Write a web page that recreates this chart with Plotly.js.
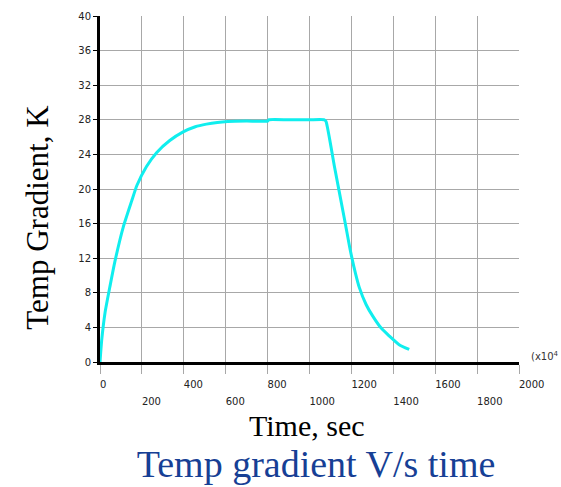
<!DOCTYPE html>
<html>
<head>
<meta charset="utf-8">
<script src="https://cdn.plot.ly/plotly-3.0.1.min.js"></script>
<style>html,body{margin:0;padding:0;background:#fff;}#chart{width:561px;height:487px;}</style>
</head>
<body>
<div id="chart"></div>
<script>
// ---- data ----
const timeSec = [0, 8, 24, 48, 71, 111, 151, 176, 222, 270, 333, 397, 455, 508, 560, 610, 700, 800, 805, 900, 1000, 1071, 1079, 1119, 1167, 1190, 1200, 1220, 1238, 1270, 1302, 1341, 1381, 1428, 1476];
const tempGradK = [0, 2.5, 5.7, 8.8, 11.6, 15.6, 18.6, 20.4, 22.6, 24.2, 25.6, 26.6, 27.2, 27.5, 27.7, 27.8, 27.85, 27.85, 28.0, 28.0, 28.0, 28.0, 27.8, 22.6, 16.5, 13.5, 12.3, 10.2, 8.6, 6.65, 5.3, 3.95, 3.0, 2.0, 1.45];
const xTicksRow1 = [0, 400, 800, 1200, 1600, 2000];
const xTicksRow2 = [200, 600, 1000, 1400, 1800];
const yTicks = [0, 4, 8, 12, 16, 20, 24, 28, 32, 36, 40];
const xRange = [0, 2000];
const yRange = [0, 40];
const chartTitle = 'Temp gradient V/s time';
const xTitle = 'Time, sec';
const yTitle = 'Temp Gradient, K';
const scaleNote = '(x10<sup>4</sup>';

// left-aligned tick text: pad with figure spaces of equal width
const pad = v => '\u2007'.repeat(String(v).length) + String(v);
const row1Text = xTicksRow1.map(pad);
const row2Text = xTicksRow2.map(pad);

const tickFont = {family: 'DejaVu Sans', size: 10, color: '#222'};
const serif = 'Liberation Serif, Times New Roman, serif';
const gridC = '#a8a8a8';

const data = [
  {x: timeSec, y: tempGradK, type: 'scatter', mode: 'lines',
   line: {color: '#10eeee', width: 3, shape: 'spline', smoothing: 0.5}, xaxis: 'x', yaxis: 'y', showlegend: false, hoverinfo: 'skip'},
  {x: [], y: [], type: 'scatter', mode: 'lines', xaxis: 'x2', yaxis: 'y', showlegend: false, hoverinfo: 'skip'}
];

const layout = {
  width: 561, height: 487,
  margin: {l: 100, r: 42, t: 16, b: 125, pad: 0},
  paper_bgcolor: '#fff', plot_bgcolor: '#fff',
  showlegend: false,
  title: {text: chartTitle, font: {family: serif, size: 38, color: '#173f95'},
          x: 316/561, xanchor: 'center', xref: 'container', yref: 'container', y: 1 - 464/487, yanchor: 'middle'},
  xaxis: {range: xRange, tickmode: 'array', tickvals: xTicksRow1, ticktext: row1Text,
          showgrid: true, gridcolor: gridC, gridwidth: 1, zeroline: false,
          showline: true, linecolor: '#000', linewidth: 3,
          ticks: 'outside', ticklen: 9, tickcolor: gridC, tickwidth: 1,
          minor: {tickmode: 'array', tickvals: xTicksRow2, showgrid: true, gridcolor: gridC, gridwidth: 1,
                  ticks: 'outside', ticklen: 9, tickcolor: gridC, tickwidth: 1},
          tickfont: tickFont, ticklabelstandoff: 2, fixedrange: true},
  xaxis2: {range: xRange, overlaying: 'x', anchor: 'y', side: 'bottom', tickmode: 'array',
           tickvals: xTicksRow2, ticktext: row2Text, showgrid: false, zeroline: false,
           showline: false, ticks: '', tickfont: tickFont, ticklabelstandoff: 32, fixedrange: true},
  yaxis: {range: yRange, tickmode: 'array', tickvals: yTicks, ticktext: yTicks.map(String),
          showgrid: true, gridcolor: gridC, gridwidth: 1, zeroline: false,
          showline: true, linecolor: '#000', linewidth: 3,
          ticks: 'outside', ticklen: 4, tickcolor: '#000', tickwidth: 1,
          tickfont: tickFont, fixedrange: true},
  annotations: [
    {text: xTitle, xref: 'paper', yref: 'paper', x: (306.5-100)/419, y: (362.5-426.5)/346.5,
     xanchor: 'center', yanchor: 'middle', showarrow: false, font: {family: serif, size: 30, color: '#000'}},
    {text: yTitle, xref: 'paper', yref: 'paper', x: (38-100)/419, y: (362.5-218)/346.5,
     xanchor: 'center', yanchor: 'middle', textangle: -90, showarrow: false, font: {family: serif, size: 31, color: '#000'}},
    {text: scaleNote, xref: 'paper', yref: 'paper', x: (529-100)/419, y: (362.5-356)/346.5,
     xanchor: 'left', yanchor: 'middle', showarrow: false, font: {family: 'DejaVu Sans', size: 10, color: '#333'}}
  ]
};

Plotly.newPlot('chart', data, layout, {staticPlot: true, displayModeBar: false});
</script>
</body>
</html>
